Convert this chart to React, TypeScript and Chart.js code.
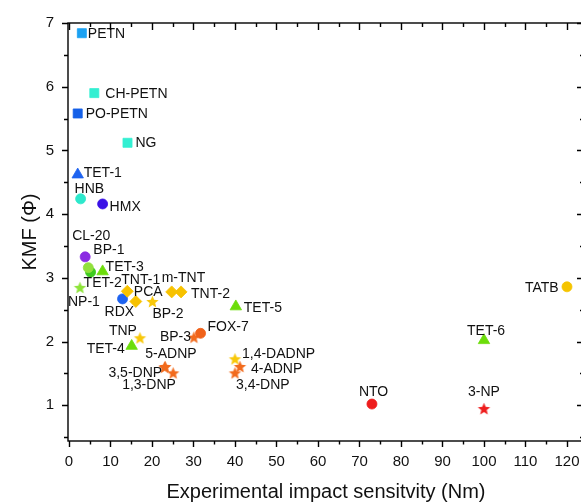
import React, { useEffect, useRef } from 'react';
import { Chart, registerables } from 'chart.js';

Chart.register(...registerables);

// ---- data ----
const compounds = [
  'PETN', 'CH-PETN', 'PO-PETN', 'NG', 'TET-1', 'HNB', 'HMX', 'CL-20', 'TET-2', 'BP-1',
  'TET-3', 'NP-1', 'RDX', 'TNT-1', 'PCA', 'BP-2', 'm-TNT', 'TNT-2', 'TET-5', 'TET-4',
  'TNP', 'BP-3', 'FOX-7', '3,5-DNP', '5-ADNP', '1,3-DNP', '1,4-DADNP', '3,4-DNP', '4-ADNP',
  'TATB', 'TET-6', 'NTO', '3-NP',
];
const impactSensitivity = [
  3.1, 6.1, 2.1, 14.1, 2.1, 2.8, 8.1, 3.9, 5.2, 4.65,
  8.1, 2.65, 12.9, 14.05, 16.1, 20.1, 24.75, 27.0, 40.2, 15.1,
  17.1, 30.1, 31.7, 23.0, 23.2, 25.1, 40.0, 40.0, 41.2,
  120, 100, 73, 100,
];
const kmf = [
  6.84, 5.9, 5.58, 5.12, 4.62, 4.24, 4.16, 3.33, 3.09, 3.16,
  3.1, 2.85, 2.67, 2.79, 2.63, 2.63, 2.78, 2.78, 2.55, 1.93,
  2.06, 2.07, 2.13, 1.6, 1.61, 1.51, 1.73, 1.51, 1.61,
  2.86, 2.02, 1.02, 0.95,
];
const xTickStep = 10;
const yTickStep = 1;

// ---- styles (marker shape / colour per compound) ----
const BLUE = '#1E63F0';
const TURQ = '#33EFD2';
const GREEN = '#6CDD0A';
const GOLD = '#F7C200';
const ORANGE = '#F26B1D';
const RED = '#EE1D1D';
const markerStyle: Record<string, [string, string]> = {
  'PETN': ['rect', '#1BA1F2'],
  'CH-PETN': ['rect', TURQ],
  'PO-PETN': ['rect', '#1560E8'],
  'NG': ['rect', TURQ],
  'TET-1': ['triangle', BLUE],
  'HNB': ['circle', '#2DE8CC'],
  'HMX': ['circle', '#3A12E6'],
  'CL-20': ['circle', '#8A2BE2'],
  'TET-2': ['circle', '#3CCB1E'],
  'BP-1': ['circle', '#92E03C'],
  'TET-3': ['triangle', GREEN],
  'NP-1': ['star', '#8EE43A'],
  'RDX': ['circle', BLUE],
  'TNT-1': ['diamond', GOLD],
  'PCA': ['diamond', GOLD],
  'BP-2': ['star', '#F8C80A'],
  'm-TNT': ['diamond', GOLD],
  'TNT-2': ['diamond', GOLD],
  'TET-5': ['triangle', GREEN],
  'TET-4': ['triangle', GREEN],
  'TNP': ['star', '#F8C80A'],
  'BP-3': ['star', ORANGE],
  'FOX-7': ['circle', '#F0621A'],
  '3,5-DNP': ['star', ORANGE],
  '5-ADNP': ['star', ORANGE],
  '1,3-DNP': ['star', ORANGE],
  '1,4-DADNP': ['star', '#F8C80A'],
  '3,4-DNP': ['star', ORANGE],
  '4-ADNP': ['star', ORANGE],
  'TATB': ['circle', '#F5C400'],
  'TET-6': ['triangle', GREEN],
  'NTO': ['circle', RED],
  '3-NP': ['star', RED],
};
// label placement relative to the marker (px): [dx to text start, dy to text middle]
const labelOffset: Record<string, [number, number]> = {
  'PETN': [6, 1], 'CH-PETN': [11, 1], 'PO-PETN': [8, 1], 'NG': [8, 0], 'TET-1': [6, -2],
  'HNB': [-6, -10], 'HMX': [7, 3], 'CL-20': [-13, -21], 'TET-2': [-7, 11], 'BP-1': [5, -18],
  'TET-3': [3, -4], 'NP-1': [-12, 15], 'RDX': [-18, 13], 'TNT-1': [-6, -11], 'PCA': [-2, -9],
  'BP-2': [0, 13], 'm-TNT': [-10, -14], 'TNT-2': [10, 2], 'TET-5': [8, 2], 'TET-4': [-45, 3],
  'TNP': [-31, -7], 'BP-3': [-34, 0], 'FOX-7': [7, -6], '3,5-DNP': [-56, 6], '5-ADNP': [-20, -12],
  '1,3-DNP': [-51, 12], '1,4-DADNP': [7, -5], '3,4-DNP': [1, 12], '4-ADNP': [11, 3],
  'TATB': [-42, 1], 'TET-6': [-17, -9], 'NTO': [-13, -12], '3-NP': [-16, -16],
};

const FONT = "'Liberation Sans', Arial, Helvetica, sans-serif";

function makeStar(color: string, R: number): HTMLCanvasElement {
  const size = Math.ceil(R * 2 + 2);
  const c = document.createElement('canvas');
  c.width = size;
  c.height = size;
  const ctx = c.getContext('2d')!;
  const cx = size / 2;
  const cy = size / 2 + R * 0.1;
  ctx.beginPath();
  for (let i = 0; i < 10; i++) {
    const r = i % 2 === 0 ? R : R * 0.44;
    const a = -Math.PI / 2 + (i * Math.PI) / 5;
    ctx.lineTo(cx + r * Math.cos(a), cy + r * Math.sin(a));
  }
  ctx.closePath();
  ctx.fillStyle = color;
  ctx.fill();
  return c;
}

const framePlugin = {
  id: 'originFrame',
  afterDraw(chart: any) {
    const { ctx, chartArea: a, scales } = chart;
    const x = scales.x;
    const y = scales.y;
    ctx.save();
    ctx.strokeStyle = '#000';
    ctx.lineWidth = 1.4;
    ctx.strokeRect(a.left, a.top, a.right - a.left, a.bottom - a.top);
    ctx.beginPath();
    const xs = x.ticks.map((t: any) => t.value);
    const xVals: [number, boolean][] = [];
    xs.forEach((v: number) => {
      xVals.push([v, true]);
      if (v + xTickStep / 2 <= x.max) xVals.push([v + xTickStep / 2, false]);
    });
    xVals.forEach(([v, major]) => {
      const px = Math.round(x.getPixelForValue(v)) + 0.5;
      ctx.moveTo(px, a.bottom);
      ctx.lineTo(px, a.bottom + (major ? 6 : 3.5));
      ctx.moveTo(px, a.top);
      ctx.lineTo(px, a.top + (major ? 7 : 4));
    });
    const ys = y.ticks.map((t: any) => t.value);
    const yVals: [number, boolean][] = [];
    ys.forEach((v: number, i: number) => {
      yVals.push([v, true]);
      if (i === 0 && v - yTickStep / 2 >= y.min) yVals.push([v - yTickStep / 2, false]);
      if (v + yTickStep / 2 <= y.max) yVals.push([v + yTickStep / 2, false]);
    });
    yVals.forEach(([v, major]) => {
      const py = Math.round(y.getPixelForValue(v)) + 0.5;
      ctx.moveTo(a.left, py);
      ctx.lineTo(a.left - (major ? 6 : 4), py);
      ctx.moveTo(a.right, py);
      ctx.lineTo(a.right - (major ? 7 : 4), py);
    });
    ctx.stroke();
    ctx.restore();
  },
};

const labelPlugin = {
  id: 'pointLabels',
  afterDatasetsDraw(chart: any) {
    const { ctx } = chart;
    const meta = chart.getDatasetMeta(0);
    ctx.save();
    ctx.font = `14px ${FONT}`;
    ctx.fillStyle = '#111';
    ctx.textAlign = 'left';
    ctx.textBaseline = 'middle';
    meta.data.forEach((el: any, i: number) => {
      const name = compounds[i];
      const [dx, dy] = labelOffset[name] || [6, 0];
      ctx.fillText(name, el.x + dx, el.y + dy);
    });
    ctx.restore();
  },
};

export default function App() {
  const ref = useRef<HTMLCanvasElement | null>(null);

  useEffect(() => {
    if (!ref.current) return;
    const starCache: Record<string, HTMLCanvasElement> = {};
    const styles = compounds.map((n) => {
      const [shape, color] = markerStyle[n];
      if (shape === 'star') {
        if (!starCache[color]) starCache[color] = makeStar(color, 6.5);
        return starCache[color];
      }
      if (shape === 'diamond') return 'rectRot';
      return shape;
    });
    const radii = compounds.map((n) => {
      const shape = markerStyle[n][0];
      if (shape === 'rect') return 6.4;
      if (shape === 'triangle') return 6.6;
      if (shape === 'diamond') return 6;
      return 5;
    });
    const colors = compounds.map((n) => markerStyle[n][1]);

    const chart = new Chart(ref.current, {
      type: 'scatter',
      data: {
        datasets: [
          {
            label: 'KMF',
            data: compounds.map((_, i) => ({ x: impactSensitivity[i], y: kmf[i] })),
            pointStyle: styles as any,
            pointRadius: radii,
            backgroundColor: colors,
            borderColor: colors,
            borderWidth: 0.8,
          },
        ],
      },
      options: {
        responsive: false,
        animation: false,
        layout: { padding: { left: 0, right: 8, top: 18, bottom: 0 } },
        plugins: { legend: { display: false }, tooltip: { enabled: false } },
        scales: {
          x: {
            type: 'linear',
            min: -0.24,
            max: 124.1,
            grid: { display: false, drawTicks: false },
            border: { display: false },
            ticks: {
              stepSize: xTickStep,
              includeBounds: false,
              autoSkip: false,
              maxRotation: 0,
              padding: 12,
              color: '#111',
              font: { family: FONT, size: 15 },
            },
            title: {
              display: true,
              text: 'Experimental impact sensitvity (Nm)',
              color: '#111',
              font: { family: FONT, size: 20 },
              padding: { top: 0, bottom: 0 },
            },
            afterFit: (s: any) => {
              s.height = 63;
            },
          },
          y: {
            type: 'linear',
            min: 0.44,
            max: 7,
            grid: { display: false, drawTicks: false },
            border: { display: false },
            ticks: {
              stepSize: yTickStep,
              includeBounds: false,
              autoSkip: false,
              padding: 14,
              color: '#111',
              font: { family: FONT, size: 15 },
            },
            title: {
              display: true,
              text: 'KMF (Φ)',
              color: '#111',
              font: { family: FONT, size: 20 },
              padding: { top: 18, bottom: 0 },
            },
            afterFit: (s: any) => {
              s.width = 68;
            },
          },
        },
      },
      plugins: [framePlugin, labelPlugin],
    });
    return () => chart.destroy();
  }, []);

  return (
    <div
      style={{
        position: 'absolute',
        left: 0,
        top: 0,
        width: 581,
        height: 504,
        overflow: 'hidden',
        background: '#fff',
      }}
    >
      <canvas ref={ref} width={592} height={504} style={{ display: 'block' }} />
    </div>
  );
}
